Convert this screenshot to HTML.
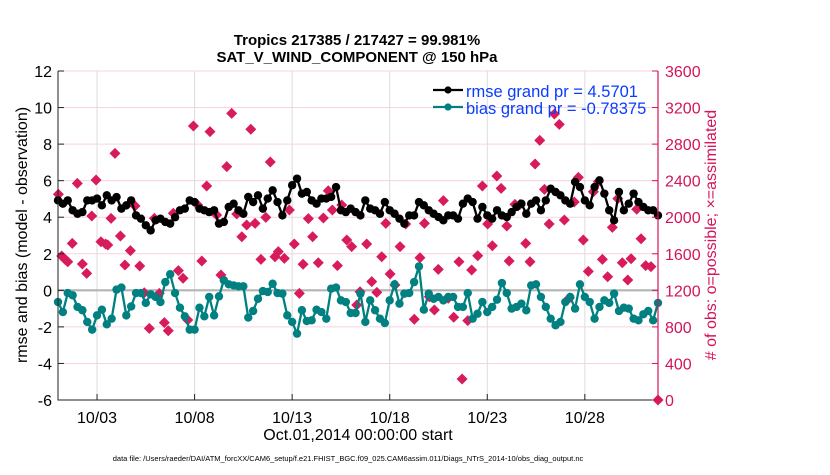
<!DOCTYPE html>
<html><head><meta charset="utf-8">
<style>
body{margin:0;background:#fff;width:830px;height:470px;overflow:hidden;font-family:"Liberation Sans",Arial,sans-serif}
svg text{font-family:"Liberation Sans",Arial,sans-serif}
</style></head>
<body>
<svg id="chart" width="830" height="470" xmlns="http://www.w3.org/2000/svg">
<text x="357" y="45" font-size="15" font-weight="bold" text-anchor="middle">Tropics 217385 / 217427 = 99.981%</text>
<text x="357" y="62" font-size="15" font-weight="bold" text-anchor="middle">SAT_V_WIND_COMPONENT @ 150 hPa</text>
<g id="grid"></g>
<g id="marks"></g>
<g id="axes"></g>
<text transform="translate(27,235) rotate(-90)" font-size="16" text-anchor="middle">rmse and bias (model - observation)</text>
<text transform="translate(716,235) rotate(-90)" font-size="16" fill="#d4145a" text-anchor="middle"># of obs: o=possible; ×=assimilated</text>
<text x="358" y="440" font-size="16" text-anchor="middle">Oct.01,2014 00:00:00 start</text>
<text x="348" y="461" font-size="7.5" text-anchor="middle">data file: /Users/raeder/DAI/ATM_forcXX/CAM6_setup/f.e21.FHIST_BGC.f09_025.CAM6assim.011/Diags_NTrS_2014-10/obs_diag_output.nc</text>
<g>
<line x1="433" y1="90" x2="463" y2="90" stroke="#000" stroke-width="2.2"/>
<circle cx="448" cy="90" r="3.6" fill="#000"/>
<text x="466" y="97" font-size="16.5" fill="#0a3cff">rmse grand pr = 4.5701</text>
<line x1="433" y1="107" x2="463" y2="107" stroke="#008080" stroke-width="2.2"/>
<circle cx="448" cy="107" r="3.6" fill="#008080"/>
<text x="466" y="114" font-size="16.5" fill="#0a3cff">bias grand pr = -0.78375</text>
</g>
</svg>
<script>
const rmse=[4.92,4.74,4.92,4.38,4.19,4.28,4.92,4.92,5.02,4.65,5.2,4.92,5.1,4.47,4.65,4.92,4.1,3.92,3.56,3.28,3.83,3.92,3.74,3.65,4.0,4.38,4.47,4.92,4.83,4.47,4.38,4.28,
4.38,3.65,3.74,4.56,4.74,4.38,4.19,5.11,4.83,5.2,4.47,5.02,5.47,4.83,4.1,4.92,5.75,6.11,5.29,5.38,4.92,4.74,5.02,5.02,5.11,5.65,4.38,4.28,4.47,4.28,4.1,4.92,
4.47,4.38,4.19,4.83,4.38,4.19,3.92,3.65,4.1,4.1,4.83,4.65,4.38,4.19,4.01,3.83,4.1,4.1,3.92,4.74,5.02,4.83,3.92,4.56,4.1,3.92,4.38,4.1,4.01,4.28,
4.56,4.74,4.19,4.74,4.92,4.38,4.92,5.56,5.38,5.2,4.92,4.74,5.93,5.65,4.92,4.65,5.65,6.02,5.29,4.38,3.83,5.38,4.38,4.74,5.29,4.83,4.56,4.38,4.38,4.1];
const bias=[-0.64,-1.19,-0.15,-0.27,-0.91,-1.09,-1.73,-2.15,-1.37,-1.06,-1.86,-1.55,0.04,0.15,-1.37,-0.88,-0.15,-0.15,-0.69,-0.22,-0.36,-0.64,0.45,0.88,-0.15,-0.95,-1.42,-2.15,-2.15,-0.95,-1.42,-0.36,
-1.37,-0.33,0.55,0.33,0.27,0.22,0.22,-1.49,-1.13,-0.46,-0.04,-0.09,0.36,-0.15,-0.18,-1.37,-1.73,-2.37,-1.09,-1.68,-1.64,-1.06,-1.19,-1.55,0.09,0.15,-0.55,-0.64,-1.24,-1.24,-0.18,-1.73,
-0.55,-1.09,-1.55,-1.79,-0.55,0.33,-0.73,-0.18,-0.15,0.45,1.31,-1.06,-0.18,-0.46,-0.36,-0.55,-0.36,-0.36,-0.91,-0.91,-0.15,-1.55,-1.28,-0.64,-1.19,-0.91,-0.51,0.4,-0.15,-1.0,
-0.91,-0.73,-1.09,0.27,0.33,-0.36,-0.91,-1.55,-1.91,-1.73,-0.64,-0.36,-1.0,0.33,-0.36,-0.64,-1.55,-0.91,-0.55,-0.69,-0.18,-1.13,-0.95,-1.0,-1.55,-1.64,-1.31,-1.13,-1.64,-0.69];
const obsDay=[0.02,0.19,0.36,0.5,0.73,0.99,1.25,1.47,1.73,1.95,2.2,2.44,2.55,2.72,2.92,3.2,3.43,3.71,3.95,4.19,4.42,4.68,4.94,5.19,5.45,5.65,5.91,6.17,6.41,6.65,6.94,7.16,7.37,7.62,7.79,
8.13,8.35,8.65,8.9,9.16,9.42,9.67,9.88,10.1,10.4,10.65,10.88,11.12,11.29,11.6,11.86,12.11,12.37,12.56,12.83,13.05,13.34,13.6,13.85,14.06,14.32,14.54,14.8,15.05,15.31,15.48,
15.82,16.08,16.34,16.59,16.8,17.02,17.27,17.53,17.82,18.26,18.55,18.78,19.03,19.29,19.49,19.75,20.0,20.28,20.55,20.71,21.0,21.2,21.51,21.75,22.02,22.26,22.49,22.71,23.0,23.12,
23.42,23.68,23.97,24.19,24.45,24.69,24.93,25.17,25.44,25.69,25.95,26.21,26.46,26.67,26.92,27.18,27.44,27.69,27.9,28.17,28.41,28.69,28.92,29.2,29.37,29.66,29.88,30.12,30.39,30.75];
const obsCount=[2251,1576,1539,1513,1714,2371,1488,1386,2013,2407,1732,1707,1696,1988,2699,1794,1477,1634,2123,1466,1174,784,1988,1167,846,758,2043,1415,1332,875,2998,2134,1521,2342,2936,
2024,1368,2553,3137,2035,1787,1915,2962,1933,1539,1999,2604,1568,1623,1550,2079,1707,1167,1485,1984,1787,1502,1991,2290,2079,1470,2134,1751,1678,1039,1185,
1707,1295,1178,1568,1933,1379,1258,1678,1926,883,1557,1933,1130,985,1430,2181,1113,905,1513,230,868,1422,1579,2342,1926,1688,2451,2316,1904,1521,
2141,2141,1714,1513,2582,2841,2305,1926,3129,3016,1969,1116,2166,2436,1751,1408,2279,2389,1539,1349,1889,2203,1502,1313,1546,2087,1765,1470,1459,0];
const xTickDays=[2,7,12,17,22,27];
const xTickLabels=["10/03","10/08","10/13","10/18","10/23","10/28"];
const yTicks=[-6,-4,-2,0,2,4,6,8,10,12];
const y2Ticks=[0,400,800,1200,1600,2000,2400,2800,3200,3600];

const L=58,R=658,T=71,B=400,NS="http://www.w3.org/2000/svg";
const X=d=>L+(d/30.75)*(R-L);
const Y=v=>B-(v+6)/18*(B-T);
const Y2=v=>B-v/3600*(B-T);
function mk(tag,attrs,parent){const e=document.createElementNS(NS,tag);for(const k in attrs)e.setAttribute(k,attrs[k]);parent.appendChild(e);return e;}
const grid=document.getElementById('grid'),marks=document.getElementById('marks'),axes=document.getElementById('axes');

yTicks.forEach(v=>{const g=mk('line',{x1:L,x2:R,y1:Y(v),y2:Y(v),stroke:'#f5d3e0','stroke-width':1},grid);

});
xTickDays.forEach(d=>{const g=mk('line',{x1:X(d),x2:X(d),y1:T,y2:B,stroke:'#dcdcdc','stroke-width':1},grid);

});
const z=mk('line',{x1:L,x2:R,y1:Y(0),y2:Y(0),stroke:'#b4b4b4','stroke-width':2.2},grid);



obsDay.forEach((d,i)=>{const cx=X(d),cy=Y2(obsCount[i]),s=5.5;
const p=mk('polygon',{points:`${cx},${cy-s} ${cx+s},${cy} ${cx},${cy+s} ${cx-s},${cy}`,fill:'#d81b5c'},marks);

});

function series(vals,color,name){
 const pts=vals.map((v,i)=>X(i*0.25)+','+Y(v)).join(' ');
 const pl=mk('polyline',{points:pts,fill:'none',stroke:color,'stroke-width':2.3},marks);
 
 
 vals.forEach((v,i)=>{const c=mk('circle',{cx:X(i*0.25),cy:Y(v),r:4.2,fill:color},marks);
 
 });
}
series(rmse,'#000','rmse');
series(bias,'#008080','bias');

const ax=mk('path',{d:`M${L},${T}V${B}H${R}`,fill:'none',stroke:'#222','stroke-width':1},axes);


const rax=mk('line',{x1:R,x2:R,y1:T,y2:B,stroke:'#d4145a','stroke-width':1.2},axes);


yTicks.forEach(v=>{mk('line',{x1:L,x2:L+6,y1:Y(v),y2:Y(v),stroke:'#222'},axes);
const t=mk('text',{x:L-6,y:Y(v)+6,'font-size':16,'text-anchor':'end'},axes);t.textContent=v;

});
y2Ticks.forEach(v=>{mk('line',{x1:R-6,x2:R,y1:Y2(v),y2:Y2(v),stroke:'#d4145a'},axes);
const t=mk('text',{x:R+7,y:Y2(v)+6,'font-size':16,fill:'#d4145a'},axes);t.textContent=v;

});
xTickDays.forEach((d,i)=>{mk('line',{x1:X(d),x2:X(d),y1:B-6,y2:B,stroke:'#222'},axes);
const t=mk('text',{x:X(d),y:B+23,'font-size':16,'text-anchor':'middle'},axes);t.textContent=xTickLabels[i];

});
</script>
</body></html>
